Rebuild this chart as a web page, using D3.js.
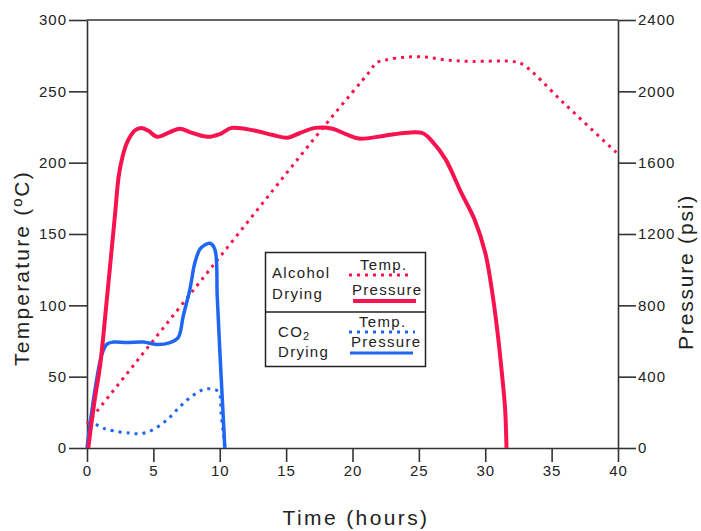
<!DOCTYPE html>
<html>
<head>
<meta charset="utf-8">
<script src="https://cdn.jsdelivr.net/npm/d3@7"></script>
<style>
  body { margin: 0; background: #fff; }
  svg text { font-family: "Liberation Sans", Arial, Helvetica, sans-serif; fill: #222; }
</style>
</head>
<body>
<svg id="chart" width="701" height="531"></svg>
<script>
// Axis ticks
const timeTicks = [0, 5, 10, 15, 20, 25, 30, 35, 40];
const tempTicks = [0, 50, 100, 150, 200, 250, 300];
const pressureTicks = [0, 400, 800, 1200, 1600, 2000, 2400];

// Alcohol drying: temperature (°C) against time (hours)
const alcoholTempTime  = [0, 9.5, 18.0, 21.3, 21.8, 22.5, 24.0, 25.5, 27.0, 29.0, 32.0, 32.8, 36.0, 40];
const alcoholTempValue = [17, 128, 227, 264, 270, 272, 274, 274, 272, 271, 271, 269, 241, 206];

// Alcohol drying: pressure (psi)
const alcoholPressTime  = [0.1, 0.3, 0.6, 1.0, 1.4, 1.75, 2.1, 2.4, 2.7, 3.0, 3.6, 4.1, 4.6, 5.3, 6.2, 7.0, 7.8, 9.1, 10.0, 10.9, 12.6, 14.0, 15.1, 16.0, 17.2, 18.5, 19.5, 20.5, 22.3, 24.1, 25.3, 26.0, 27.0, 28.2, 29.2, 30.0, 30.45, 30.9, 31.28, 31.5, 31.6];
const alcoholPressValue = [0, 120, 280, 470, 760, 1030, 1300, 1530, 1640, 1710, 1780, 1795, 1780, 1745, 1770, 1790, 1770, 1745, 1760, 1795, 1780, 1755, 1740, 1765, 1795, 1790, 1760, 1735, 1750, 1768, 1765, 1720, 1620, 1430, 1280, 1095, 910, 665, 400, 215, 0];

// CO2 drying: temperature (°C)
const co2TempTime  = [0.2, 0.6, 1.2, 2.0, 3.2, 4.0, 4.9, 6.0, 7.0, 8.0, 9.0, 9.9, 10.1, 10.3, 10.4];
const co2TempValue = [20, 17, 14, 12, 10.5, 10, 12.5, 19.5, 29, 37, 41.5, 39.5, 24, 8, 0];

// CO2 drying: pressure (psi)
const co2PressTime  = [0, 0.35, 0.73, 1.1, 1.48, 1.98, 3.0, 4.24, 5.24, 6.2, 6.87, 7.25, 7.75, 8.13, 8.5, 8.9, 9.26, 9.63, 9.81, 10.0, 10.26, 10.38];
const co2PressValue = [0, 200, 385, 520, 581, 594, 592, 594, 581, 590, 619, 740, 890, 1040, 1114, 1140, 1148, 1114, 852, 553, 178, 0];

const alcoholColor = "#f8134f";
const co2Color = "#1f66f5";

const svg = d3.select("#chart");

const x = d3.scaleLinear().domain([0, 40]).range([87, 618]);
const yT = d3.scaleLinear().domain([0, 300]).range([448, 20]);
const yP = d3.scaleLinear().domain([0, 2400]).range([448, 20]);

const axisColor = "#333";

// Axes
const gx = svg.append("g").attr("transform", "translate(0,448)")
  .call(d3.axisBottom(x).tickValues(timeTicks).tickFormat(d3.format("d"))
    .tickSize(14).tickSizeOuter(0).tickPadding(3));
const gl = svg.append("g").attr("transform", "translate(87,0)")
  .call(d3.axisLeft(yT).tickValues(tempTicks).tickFormat(d3.format("d"))
    .tickSize(18).tickSizeOuter(0).tickPadding(2));
const gr = svg.append("g").attr("transform", "translate(618,0)")
  .call(d3.axisRight(yP).tickValues(pressureTicks).tickFormat(d3.format("d"))
    .tickSize(18).tickSizeOuter(0).tickPadding(2));

[gx, gl, gr].forEach(g => {
  g.selectAll("path.domain").attr("stroke", axisColor).attr("stroke-width", 1.6);
  g.selectAll(".tick line").attr("stroke", axisColor).attr("stroke-width", 1.6);
  g.selectAll(".tick text")
    .attr("fill", "#222")
    .style("font-size", "15px")
    .style("letter-spacing", "1px")
    .style("font-family", '"Liberation Sans", Arial, sans-serif');
});

// Top frame line
svg.append("line")
  .attr("x1", x(0)).attr("x2", x(40)).attr("y1", yT(300)).attr("y2", yT(300))
  .attr("stroke", axisColor).attr("stroke-width", 1.6);

// Axis titles
svg.append("text")
  .attr("x", 356).attr("y", 525)
  .attr("text-anchor", "middle")
  .style("font-size", "21px").style("letter-spacing", "2.4px")
  .text("Time (hours)");

svg.append("text")
  .attr("transform", "translate(29,268) rotate(-90)")
  .attr("text-anchor", "middle")
  .style("font-size", "21px").style("letter-spacing", "2.2px")
  .text("Temperature (ºC)");

svg.append("text")
  .attr("transform", "translate(693,272) rotate(-90)")
  .attr("text-anchor", "middle")
  .style("font-size", "21px").style("letter-spacing", "1.8px")
  .text("Pressure (psi)");

// Curves
const curve = d3.curveCatmullRom.alpha(0.5);
const lineT = d3.line().x(d => x(d[0])).y(d => yT(d[1])).curve(curve);
const lineP = d3.line().x(d => x(d[0])).y(d => yP(d[1])).curve(curve);

const zip = (a, b) => a.map((v, i) => [v, b[i]]);

const plot = svg.append("g");

plot.append("path")
  .datum(zip(alcoholTempTime, alcoholTempValue))
  .attr("d", lineT)
  .attr("fill", "none").attr("stroke", alcoholColor)
  .attr("stroke-width", 3).attr("stroke-dasharray", "3,5");

plot.append("path")
  .datum(zip(co2TempTime, co2TempValue))
  .attr("d", lineT)
  .attr("fill", "none").attr("stroke", co2Color)
  .attr("stroke-width", 3).attr("stroke-dasharray", "3,5");

plot.append("path")
  .datum(zip(co2PressTime, co2PressValue))
  .attr("d", lineP)
  .attr("fill", "none").attr("stroke", co2Color)
  .attr("stroke-width", 3.5).attr("stroke-linejoin", "round");

plot.append("path")
  .datum(zip(alcoholPressTime, alcoholPressValue))
  .attr("d", lineP)
  .attr("fill", "none").attr("stroke", alcoholColor)
  .attr("stroke-width", 4).attr("stroke-linejoin", "round");

// Legend
const lg = svg.append("g");
lg.append("rect")
  .attr("x", 265.5).attr("y", 252.5).attr("width", 160).attr("height", 114)
  .attr("fill", "#fff").attr("stroke", "#222").attr("stroke-width", 1.5);
lg.append("line")
  .attr("x1", 265.5).attr("x2", 425.5).attr("y1", 312).attr("y2", 312)
  .attr("stroke", "#222").attr("stroke-width", 1.5);

const legendText = (tx, ty, s) => lg.append("text")
  .attr("x", tx).attr("y", ty)
  .style("font-size", "15px").style("letter-spacing", "1.3px")
  .text(s);

legendText(272, 278, "Alcohol");
legendText(272, 299, "Drying");
legendText(360, 270, "Temp.");
legendText(352, 295, "Pressure");

const co2Label = lg.append("text").attr("x", 278).attr("y", 337)
  .style("font-size", "15px").style("letter-spacing", "1.3px");
co2Label.append("tspan").text("CO");
co2Label.append("tspan").attr("dy", 3).style("font-size", "11px").text("2");
legendText(278, 357, "Drying");
legendText(359, 327, "Temp.");
legendText(351, 347, "Pressure");

lg.append("line").attr("x1", 349).attr("x2", 413).attr("y1", 275).attr("y2", 275)
  .attr("stroke", alcoholColor).attr("stroke-width", 3).attr("stroke-dasharray", "3,5");
lg.append("line").attr("x1", 353).attr("x2", 416).attr("y1", 301).attr("y2", 301)
  .attr("stroke", alcoholColor).attr("stroke-width", 4);
lg.append("line").attr("x1", 349).attr("x2", 415).attr("y1", 332).attr("y2", 332)
  .attr("stroke", co2Color).attr("stroke-width", 3).attr("stroke-dasharray", "3,5");
lg.append("line").attr("x1", 350).attr("x2", 413).attr("y1", 353).attr("y2", 353)
  .attr("stroke", co2Color).attr("stroke-width", 3);
</script>
</body>
</html>
